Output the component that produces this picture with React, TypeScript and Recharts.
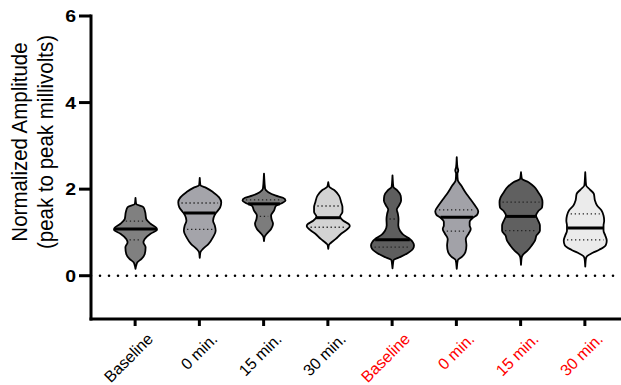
import React from 'react';
import { ComposedChart, Bar, XAxis, YAxis, ReferenceLine } from 'recharts';

// ---- data ----
const categories = ['Baseline', '0 min.', '15 min.', '30 min.', 'Baseline', '0 min.', '15 min.', '30 min.'];

// violin outlines: [value, relative half-width], top to bottom
const violinBaseline = [[1.80, 0], [1.66, 0.03], [1.58, 0.37], [1.47, 0.45], [1.31, 0.5], [1.20, 0.7], [1.10, 0.98], [1.06, 1.0], [0.97, 0.7], [0.85, 0.43], [0.77, 0.37], [0.66, 0.47], [0.50, 0.43], [0.39, 0.28], [0.31, 0.09], [0.23, 0.03], [0.16, 0]];
const violin0min = [[2.26, 0], [2.09, 0.03], [2.03, 0.3], [1.93, 0.62], [1.81, 0.9], [1.70, 1.0], [1.58, 0.95], [1.48, 0.8], [1.39, 0.68], [1.27, 0.62], [1.16, 0.7], [1.04, 0.74], [0.89, 0.62], [0.73, 0.4], [0.62, 0.15], [0.54, 0.03], [0.41, 0]];
const violin15min = [[2.36, 0], [2.01, 0.05], [1.93, 0.2], [1.85, 0.55], [1.80, 0.88], [1.74, 1.0], [1.68, 0.85], [1.61, 0.55], [1.51, 0.47], [1.39, 0.33], [1.31, 0.35], [1.20, 0.42], [1.08, 0.33], [0.97, 0.13], [0.90, 0.03], [0.80, 0]];
const violin30min = [[2.16, 0], [2.05, 0.05], [1.97, 0.3], [1.85, 0.5], [1.70, 0.6], [1.58, 0.66], [1.47, 0.66], [1.37, 0.55], [1.27, 0.7], [1.18, 0.98], [1.14, 1.0], [1.06, 0.85], [0.97, 0.6], [0.85, 0.35], [0.75, 0.1], [0.71, 0.03], [0.62, 0]];
const violinRedBaseline = [[2.32, 0], [2.05, 0.04], [1.97, 0.22], [1.85, 0.38], [1.74, 0.4], [1.62, 0.3], [1.53, 0.2], [1.43, 0.25], [1.31, 0.28], [1.16, 0.27], [1.04, 0.35], [0.95, 0.5], [0.87, 0.75], [0.77, 0.95], [0.70, 1.0], [0.62, 0.95], [0.52, 0.7], [0.42, 0.3], [0.36, 0.05], [0.17, 0]];
const violinRed0min = [[2.74, 0], [2.51, 0.03], [2.43, 0.07], [2.36, 0.03], [2.20, 0.05], [2.09, 0.2], [1.93, 0.4], [1.78, 0.62], [1.62, 0.85], [1.49, 1.0], [1.41, 0.95], [1.34, 0.75], [1.24, 0.6], [1.16, 0.6], [1.08, 0.65], [0.97, 0.55], [0.85, 0.42], [0.70, 0.45], [0.54, 0.4], [0.44, 0.25], [0.36, 0.05], [0.16, 0]];
const violinRed15min = [[2.39, 0], [2.24, 0.04], [2.16, 0.35], [2.05, 0.62], [1.93, 0.8], [1.81, 0.95], [1.70, 1.0], [1.58, 0.98], [1.49, 0.8], [1.39, 0.7], [1.27, 0.8], [1.16, 0.88], [1.04, 0.88], [0.93, 0.72], [0.81, 0.65], [0.70, 0.5], [0.58, 0.3], [0.49, 0.1], [0.42, 0.03], [0.25, 0]];
const violinRed30min = [[2.39, 0], [2.09, 0.04], [1.99, 0.22], [1.89, 0.4], [1.74, 0.45], [1.62, 0.55], [1.51, 0.75], [1.39, 0.85], [1.27, 0.88], [1.16, 0.85], [1.04, 0.85], [0.93, 0.93], [0.81, 1.0], [0.70, 0.95], [0.60, 0.65], [0.53, 0.35], [0.45, 0.08], [0.39, 0.03], [0.21, 0]];

const medians = [1.08, 1.45, 1.66, 1.34, 0.83, 1.35, 1.37, 1.10];
const upperQuartiles = [1.26, 1.68, 1.75, 1.61, 1.31, 1.52, 1.70, 1.43];
const lowerQuartiles = [0.83, 1.07, 1.37, 1.12, 0.66, 1.03, 1.04, 0.83];

const yTicks = [0, 2, 4, 6];
const yLabelLines = ['Normalized Amplitude', '(peak to peak millivolts)'];

// ---- styles ----
const fills = ['#808080', '#a4a4aa', '#7c7c7c', '#d3d3d3', '#5e5e5e', '#a2a2a8', '#606060', '#ebebeb'];
const labelColors = ['#000000', '#000000', '#000000', '#000000', '#ff0000', '#ff0000', '#ff0000', '#ff0000'];
const FONT = '"Liberation Sans", Arial, Helvetica, sans-serif';

const profiles = [violinBaseline, violin0min, violin15min, violin30min, violinRedBaseline, violinRed0min, violinRed15min, violinRed30min];

const data = categories.map((name, i) => {
  const p = profiles[i];
  return { idx: i, name, range: [p[p.length - 1][0], p[0][0]] };
});

function widthAt(p: number[][], v: number): number {
  for (let i = 0; i < p.length - 1; i++) {
    const [v0, w0] = p[i];
    const [v1, w1] = p[i + 1];
    if (v <= v0 && v >= v1) {
      const t = v0 === v1 ? 0 : (v0 - v) / (v0 - v1);
      return w0 + (w1 - w0) * t;
    }
  }
  return 0;
}

function slopes(ys: number[], xs: number[]): number[] {
  const n = ys.length;
  const h: number[] = [];
  const d: number[] = [];
  for (let i = 0; i < n - 1; i++) {
    h.push(ys[i + 1] - ys[i]);
    d.push((xs[i + 1] - xs[i]) / (ys[i + 1] - ys[i]));
  }
  const m: number[] = new Array(n).fill(0);
  for (let i = 1; i < n - 1; i++) {
    const d0 = d[i - 1];
    const d1 = d[i];
    const p = (d0 * h[i] + d1 * h[i - 1]) / (h[i - 1] + h[i]);
    const s = (Math.sign(d0) + Math.sign(d1)) * Math.min(Math.abs(d0), Math.abs(d1), 0.5 * Math.abs(p));
    m[i] = s || 0;
  }
  m[0] = d[0];
  m[n - 1] = d[n - 2];
  return m;
}

const ViolinShape = (props: any) => {
  const { x, y, width, height, payload } = props;
  const i = payload.idx;
  const p = profiles[i];
  const vMax = p[0][0];
  const vMin = p[p.length - 1][0];
  const top = Math.min(y, y + height);
  const h = Math.abs(height);
  const py = (v: number) => top + (h * (vMax - v)) / (vMax - vMin);
  const cx = x + width / 2;
  const half = width / 2;
  const ys = p.map((pt) => py(pt[0]));
  const xs = p.map((pt) => pt[1] * half);
  const m = slopes(ys, xs);
  let d = `M${cx + xs[0]},${ys[0]}`;
  for (let k = 0; k < ys.length - 1; k++) {
    const hh = ys[k + 1] - ys[k];
    d += ` C${cx + xs[k] + (m[k] * hh) / 3},${ys[k] + hh / 3} ${cx + xs[k + 1] - (m[k + 1] * hh) / 3},${ys[k + 1] - hh / 3} ${cx + xs[k + 1]},${ys[k + 1]}`;
  }
  for (let k = ys.length - 1; k > 0; k--) {
    const hh = ys[k] - ys[k - 1];
    d += ` C${cx - (xs[k] - (m[k] * hh) / 3)},${ys[k] - hh / 3} ${cx - (xs[k - 1] + (m[k - 1] * hh) / 3)},${ys[k - 1] + hh / 3} ${cx - xs[k - 1]},${ys[k - 1]}`;
  }
  d += ' Z';
  const lineAt = (v: number, inset: number) => {
    const w = Math.max(0, widthAt(p, v) * half - inset);
    return { x1: cx - w, x2: cx + w, y: py(v) };
  };
  const med = lineAt(medians[i], 0.5);
  const q3 = lineAt(upperQuartiles[i], 3);
  const q1 = lineAt(lowerQuartiles[i], 3);
  return (
    <g>
      <path d={d} fill={fills[i]} stroke="#000" strokeWidth={1.8} strokeLinejoin="round" />
      <line x1={q3.x1} x2={q3.x2} y1={q3.y} y2={q3.y} stroke="#222" strokeWidth={1.3} strokeDasharray="1.3 2.7" />
      <line x1={q1.x1} x2={q1.x2} y1={q1.y} y2={q1.y} stroke="#222" strokeWidth={1.3} strokeDasharray="1.3 2.7" />
      <line x1={med.x1} x2={med.x2} y1={med.y} y2={med.y} stroke="#000" strokeWidth={3} />
    </g>
  );
};

const XTick = (props: any) => {
  const { x, y, payload } = props;
  const i = Number(payload.value);
  const ax = x + 19;
  const ay = y + 12;
  return (
    <text x={ax} y={ay} transform={`rotate(-45 ${ax} ${ay})`} textAnchor="end" fontSize={16} fontFamily={FONT} fill={labelColors[i]}>
      {categories[i]}
    </text>
  );
};

const YTick = (props: any) => {
  const { x, y, payload } = props;
  return (
    <text
      transform={`translate(${x} ${y}) scale(1.18 1)`}
      x={0}
      y={0}
      dy="0.36em"
      textAnchor="end"
      fontSize={16.5}
      fontWeight="bold"
      fontFamily={FONT}
      fill="#000"
    >
      {payload.value}
    </text>
  );
};

const YLabel = () => (
  <g>
    {yLabelLines.map((line, k) => {
      const bx = 27 + k * 26;
      return (
        <text
          key={k}
          transform={`translate(${bx} 142) rotate(-90) scale(1 1.12)`}
          x={0}
          y={0}
          textAnchor="middle"
          fontSize={20.5}
          fontFamily={FONT}
          fill="#000"
        >
          {line}
        </text>
      );
    })}
  </g>
);

export default function App() {
  return (
    <div style={{ position: 'absolute', left: 0, top: 0, width: 621, height: 385, background: '#fff' }}>
      <ComposedChart width={621} height={385} data={data} margin={{ top: 16, right: 0, bottom: 0, left: 0 }}>
        <XAxis
          dataKey="idx"
          type="category"
          height={66}
          padding={{ left: 12, right: 4 }}
          axisLine={{ stroke: '#000', strokeWidth: 3, strokeLinecap: 'square' }}
          tickLine={{ stroke: '#000', strokeWidth: 3 }}
          tickSize={7}
          tickMargin={2}
          interval={0}
          tick={<XTick />}
        />
        <YAxis
          type="number"
          domain={[-1, 6]}
          ticks={yTicks}
          width={91}
          axisLine={{ stroke: '#000', strokeWidth: 3, strokeLinecap: 'square' }}
          tickLine={{ stroke: '#000', strokeWidth: 3 }}
          tickSize={12}
          tickMargin={3}
          tick={<YTick />}
          label={<YLabel />}
          allowDataOverflow
        />
        <ReferenceLine y={0} stroke="#000" strokeWidth={2.6} strokeDasharray="0 9" strokeLinecap="round" />
        <Bar dataKey="range" barSize={43} isAnimationActive={false} shape={<ViolinShape />} />
      </ComposedChart>
    </div>
  );
}
